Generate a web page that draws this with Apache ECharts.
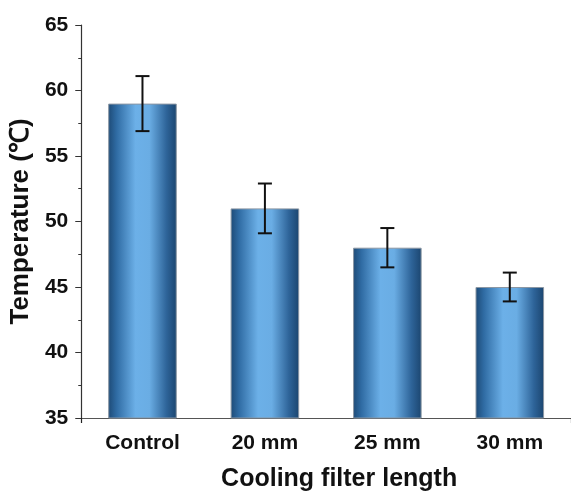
<!DOCTYPE html>
<html>
<head>
<meta charset="utf-8">
<script src="https://cdn.jsdelivr.net/npm/echarts@6/dist/echarts.min.js"></script>
<style>
html,body{margin:0;padding:0;background:#fff;}
#main{width:571px;height:497px;}
</style>
</head>
<body>
<div id="main"></div>
<script>
const categories = ['Control', '20 mm', '25 mm', '30 mm'];
const meanValues = [59, 51, 48, 45];
const errorValues = [2.1, 1.9, 1.5, 1.1];
const yTicks = [35, 40, 45, 50, 55, 60, 65];

const FONT = '"Liberation Sans", Arial, sans-serif';
const chart = echarts.init(document.getElementById('main'));

const barGradient = new echarts.graphic.LinearGradient(0, 0, 1, 0, [
  { offset: 0, color: '#1d4a76' },
  { offset: 0.12, color: '#2f6ba3' },
  { offset: 0.4, color: '#6cb0e8' },
  { offset: 0.6, color: '#6aade4' },
  { offset: 0.85, color: '#2e6499' },
  { offset: 1, color: '#1b456f' }
]);

const errData = categories.map((c, i) => [i, meanValues[i] - errorValues[i], meanValues[i] + errorValues[i]]);

chart.setOption({
  animation: false,
  backgroundColor: '#ffffff',
  grid: { left: 80, top: 25, width: 494, height: 399, containLabel: false },
  xAxis: {
    type: 'category',
    data: categories,
    boundaryGap: true,
    axisLine: { lineStyle: { color: '#555', width: 1.2 } },
    axisTick: { show: true, interval: function (i) { return i === 2; }, length: 5, inside: false, lineStyle: { color: '#222', width: 1.2 } },
    axisLabel: { margin: 15, color: '#111', fontFamily: FONT, fontWeight: 'bold', fontSize: 21 },
    name: 'Cooling filter length',
    nameLocation: 'middle',
    nameGap: 49,
    nameTextStyle: { color: '#111', fontFamily: FONT, fontWeight: 'bold', fontSize: 25, padding: [0, 0, 0, 26], verticalAlign: 'top' }
  },
  yAxis: {
    type: 'value',
    min: yTicks[0],
    max: yTicks[yTicks.length - 1],
    interval: 5,
    splitLine: { show: false },
    axisLine: { show: true, lineStyle: { color: '#333', width: 1.2 } },
    axisTick: { show: true, length: 6, lineStyle: { color: '#333' } },
    minorTick: { show: true, splitNumber: 2, length: 3, lineStyle: { color: '#333' } },
    axisLabel: { margin: 13, color: '#111', fontFamily: FONT, fontWeight: 'bold', fontSize: 21 },
    name: 'Temperature (℃)',
    nameLocation: 'middle',
    nameGap: 46,
    nameTextStyle: { color: '#111', fontFamily: FONT, fontWeight: 'bold', fontSize: 26 }
  },
  series: [
    {
      type: 'bar',
      data: meanValues,
      barWidth: '56%',
      itemStyle: { color: barGradient, borderColor: '#8a96a3', borderWidth: 1 }
    },
    {
      type: 'custom',
      data: errData,
      z: 10,
      renderItem: function (params, api) {
        const x = api.value(0);
        const lo = api.coord([x, api.value(1)]);
        const hi = api.coord([x, api.value(2)]);
        const cap = 7;
        const style = { stroke: '#111', lineWidth: 2 };
        return {
          type: 'group',
          children: [
            { type: 'line', shape: { x1: hi[0], y1: hi[1], x2: lo[0], y2: lo[1] }, style: style },
            { type: 'line', shape: { x1: hi[0] - cap, y1: hi[1], x2: hi[0] + cap, y2: hi[1] }, style: style },
            { type: 'line', shape: { x1: lo[0] - cap, y1: lo[1], x2: lo[0] + cap, y2: lo[1] }, style: style }
          ]
        };
      }
    }
  ]
});
</script>
</body>
</html>
